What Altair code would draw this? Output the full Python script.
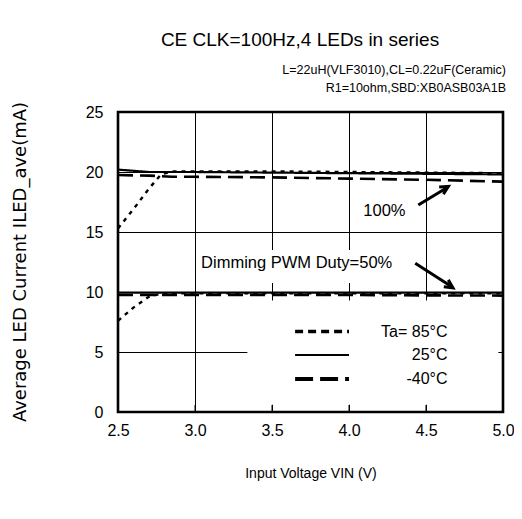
import altair as alt
import pandas as pd

# ---- data ----
vin = [2.5, 2.6, 2.7, 2.78, 2.85, 3.0, 3.5, 4.0, 4.5, 5.0]
i85_100 = [15.3, 16.9, 18.6, 19.8, 20.05, 20.05, 20.05, 20.0, 19.95, 19.9]
i25_100 = [20.2, 20.1, 20.0, 20.0, 20.0, 20.0, 19.95, 19.9, 19.85, 19.8]
im40_100 = [19.75, 19.72, 19.7, 19.65, 19.6, 19.6, 19.55, 19.45, 19.35, 19.2]
i85_50 = [7.6, 8.7, 9.6, 9.85, 9.9, 9.9, 9.9, 9.9, 9.9, 9.9]
i25_50 = [9.95, 9.95, 9.95, 9.95, 9.95, 9.95, 9.95, 9.95, 9.95, 9.95]
im40_50 = [9.75, 9.75, 9.75, 9.75, 9.75, 9.75, 9.75, 9.75, 9.72, 9.7]

x_ticks = [2.5, 3.0, 3.5, 4.0, 4.5, 5.0]
y_ticks = [0, 5, 10, 15, 20, 25]

legend_labels = ["Ta= 85°C", "25°C", "-40°C"]

W, H = 385, 300
FONT = "Liberation Sans"

rows = []
for name, arr in [("85a", i85_100), ("25a", i25_100), ("m40a", im40_100),
                  ("85b", i85_50), ("25b", i25_50), ("m40b", im40_50)]:
    for v, i in zip(vin, arr):
        rows.append({"vin": v, "i": i, "s": name})
df = pd.DataFrame(rows)

xs = alt.Scale(domain=[2.5, 5.0], nice=False)
ys = alt.Scale(domain=[0, 25], nice=False)

xax = alt.Axis(
    values=x_ticks, format=".1f", title="Input Voltage VIN (V)",
    grid=True, gridColor="black", gridWidth=1, ticks=False, labelFlush=False,
    labelFontSize=16, labelPadding=10, titleFontSize=14, titlePadding=28,
    titleFontWeight="normal", domain=False, labelColor="black", titleColor="black",
    labelFont=FONT, titleFont=FONT)
yax = alt.Axis(
    values=y_ticks, title=None, grid=True, gridColor="black", gridWidth=1,
    ticks=False, labelFontSize=16, labelPadding=15, domain=False,
    labelColor="black", labelFont=FONT)

base = alt.Chart(df)


def line(series, dash, width):
    return base.transform_filter(alt.datum.s == series).mark_line(
        color="black", strokeWidth=width, strokeDash=dash, clip=True
    ).encode(x=alt.X("vin:Q", scale=xs, axis=xax), y=alt.Y("i:Q", scale=ys, axis=yax))


lines = [
    line("25a", [1, 0], 2.2), line("85a", [4, 5], 2.4), line("m40a", [15, 7], 2.6),
    line("25b", [1, 0], 2.2), line("85b", [4, 5], 2.4), line("m40b", [15, 7], 2.6),
]

# inside ticks on the bottom axis
ticks = alt.Chart(pd.DataFrame({"x": x_ticks})).mark_rule(
    color="black", strokeWidth=1).encode(
    x=alt.X("x:Q", scale=xs), y=alt.value(H), y2=alt.value(H - 7))

# white boxes behind annotations
boxes = alt.Chart(pd.DataFrame({
    "x": [3.03, 3.34], "x2": [4.3, 4.97], "y": [10.75, 0.6], "y2": [13.5, 9.3]
})).mark_rect(color="white").encode(
    x=alt.X("x:Q", scale=xs), x2="x2:Q", y=alt.Y("y:Q", scale=ys), y2="y2:Q")

ann = alt.Chart(pd.DataFrame({
    "x": [3.66, 4.23], "y": [12.4, 16.75], "t": ["Dimming PWM Duty=50%", "100%"]
})).mark_text(fontSize=16.5, font=FONT, color="black").encode(
    x=alt.X("x:Q", scale=xs), y=alt.Y("y:Q", scale=ys), text="t:N")

arrows = alt.Chart(pd.DataFrame({
    "x": [4.45, 4.43], "y": [17.25, 12.4], "x2": [4.63, 4.66], "y2": [18.65, 10.5]
})).mark_rule(color="black", strokeWidth=3).encode(
    x=alt.X("x:Q", scale=xs), y=alt.Y("y:Q", scale=ys), x2="x2:Q", y2="y2:Q")

heads = alt.Chart(pd.DataFrame({
    "x": [4.645, 4.675], "y": [18.8, 10.35], "a": [59, 123]
})).mark_point(shape="M-0.75,1.5 L0,0 L0.75,1.5", filled=False, color="black",
               opacity=1, strokeWidth=3, size=120).encode(
    x=alt.X("x:Q", scale=xs), y=alt.Y("y:Q", scale=ys),
    angle=alt.Angle("a:Q", scale=None))

# manual legend
leg_df = alt.Chart(pd.DataFrame({
    "x": [3.65, 3.65, 3.65], "x2": [4.0, 4.0, 4.0], "y": [6.7, 4.75, 2.75],
    "d": ["a", "b", "c"]
}))
leg_dot = leg_df.transform_filter(alt.datum.d == "a").mark_rule(
    color="black", strokeWidth=3.5, strokeDash=[8, 5]).encode(
    x=alt.X("x:Q", scale=xs), x2="x2:Q", y=alt.Y("y:Q", scale=ys))
leg_sol = leg_df.transform_filter(alt.datum.d == "b").mark_rule(
    color="black", strokeWidth=2).encode(
    x=alt.X("x:Q", scale=xs), x2="x2:Q", y=alt.Y("y:Q", scale=ys))
leg_dash = leg_df.transform_filter(alt.datum.d == "c").mark_rule(
    color="black", strokeWidth=4, strokeDash=[18, 7]).encode(
    x=alt.X("x:Q", scale=xs), x2="x2:Q", y=alt.Y("y:Q", scale=ys))
leg_text = alt.Chart(pd.DataFrame({
    "x": [4.64, 4.64, 4.64], "y": [6.7, 4.75, 2.75], "t": legend_labels
})).mark_text(fontSize=16, font=FONT, color="black", align="right").encode(
    x=alt.X("x:Q", scale=xs), y=alt.Y("y:Q", scale=ys), text="t:N")

# frame
frame = alt.Chart(pd.DataFrame({"a": [0]})).mark_rect(
    fill=None, stroke="black", strokeWidth=2.6).encode(
    x=alt.value(0), x2=alt.value(W), y=alt.value(0), y2=alt.value(H))

# titles
titles = alt.Chart(pd.DataFrame({
    "px": [182, 388, 388], "py": [-72, -42, -24],
    "t": ["CE CLK=100Hz,4 LEDs in series",
          "L=22uH(VLF3010),CL=0.22uF(Ceramic)",
          "R1=10ohm,SBD:XB0ASB03A1B"],
    "fs": [19, 12.5, 12.5],
}))
title_main = titles.transform_filter(alt.datum.fs == 19).mark_text(
    fontSize=19, font=FONT, color="black").encode(
    x=alt.X("px:Q", scale=None), y=alt.Y("py:Q", scale=None), text="t:N")
title_sub = titles.transform_filter(alt.datum.fs < 19).mark_text(
    fontSize=12.5, font=FONT, color="black", align="right").encode(
    x=alt.X("px:Q", scale=None), y=alt.Y("py:Q", scale=None), text="t:N")

ytitle = alt.Chart(pd.DataFrame({"t": ["Average LED Current  ILED_ave(mA)"]})).mark_text(
    fontSize=18, font="DejaVu Sans", color="black", angle=270, baseline="middle").encode(
    x=alt.value(-97), y=alt.value(150), text="t:N")

chart = alt.layer(
    *lines, boxes, ticks, ann, arrows, heads, leg_dot, leg_sol, leg_dash, leg_text,
    frame, title_main, title_sub, ytitle
).properties(
    width=W, height=H,
    autosize=alt.AutoSizeParams(type="none"),
    padding={"left": 110, "top": 104, "right": 11, "bottom": 99},
).configure_view(stroke=None).configure(background="white")

chart.save("out.html", embed_options={"renderer": "svg", "actions": False})
